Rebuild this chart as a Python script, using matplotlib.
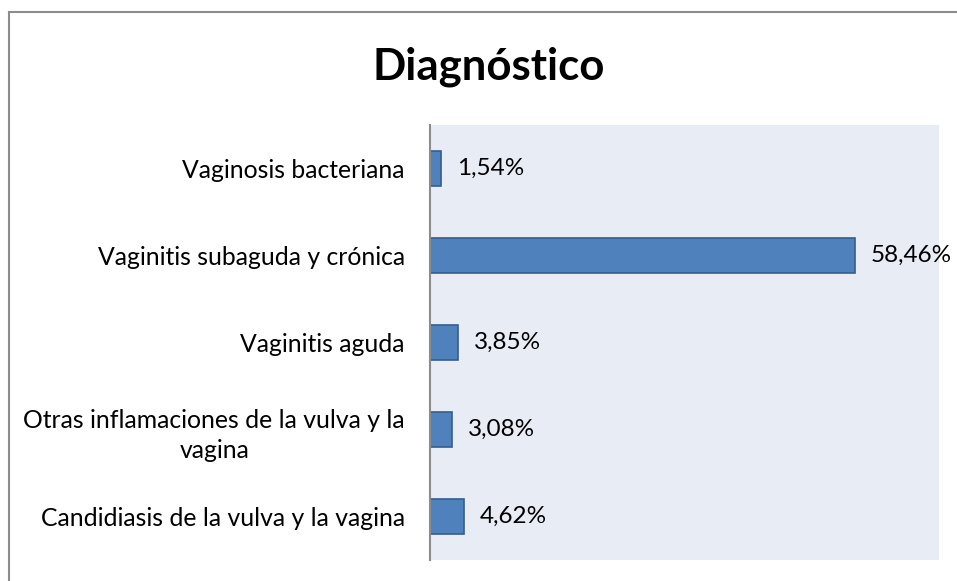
import matplotlib.pyplot as plt
from matplotlib.lines import Line2D

categorias = [
    'Vaginosis bacteriana',
    'Vaginitis subaguda y crónica',
    'Vaginitis aguda',
    'Otras inflamaciones de la vulva y la\nvagina',
    'Candidiasis de la vulva y la vagina',
]
porcentajes = [1.54, 58.46, 3.85, 3.08, 4.62]
etiquetas = ['1,54%', '58,46%', '3,85%', '3,08%', '4,62%']

plt.rcParams['font.family'] = ['Lato', 'DejaVu Sans']

W, H = 957, 581
fig = plt.figure(figsize=(W / 100, H / 100), dpi=100)
ax = fig.add_axes([430 / W, 1 - 560 / H, (939 - 430) / W, (560 - 125) / H])
ax.set_facecolor('#E8ECF4')

y = range(len(categorias))
ax.barh(y, porcentajes, height=0.41, color='#4F81BD', edgecolor='#385D8A', linewidth=1.2)
for yi, v, t in zip(y, porcentajes, etiquetas):
    ax.annotate(t, (v, yi), xytext=(16, 0), textcoords='offset pixels',
                va='center', ha='left', fontsize=17.5, color='#000000')

ax.set_xlim(0, 70)
ax.set_ylim(len(categorias) - 0.5, -0.5)
ax.set_yticks(list(y))
ax.set_yticklabels(categorias, fontsize=17.8, multialignment='center', linespacing=1.4)
ax.tick_params(axis='y', length=0, pad=25 * 72 / 100)
ax.set_xticks([])
for s in ['top', 'right', 'bottom']:
    ax.spines[s].set_visible(False)
ax.spines['left'].set_color('#8C8C8C')
ax.spines['left'].set_linewidth(1.5)

fig.text(489 / W, 1 - 67 / H, 'Diagnóstico', ha='center', va='center',
         fontsize=31.5, fontweight='bold')

# borde del gráfico
fig.add_artist(Line2D([8.5 / W, 8.5 / W], [0, 1 - 12 / H], transform=fig.transFigure,
                      color='#8C8C8C', linewidth=1.5))
fig.add_artist(Line2D([8.5 / W, 1], [1 - 12 / H, 1 - 12 / H], transform=fig.transFigure,
                      color='#8C8C8C', linewidth=1.5))

fig.savefig('out.png', dpi=100)
